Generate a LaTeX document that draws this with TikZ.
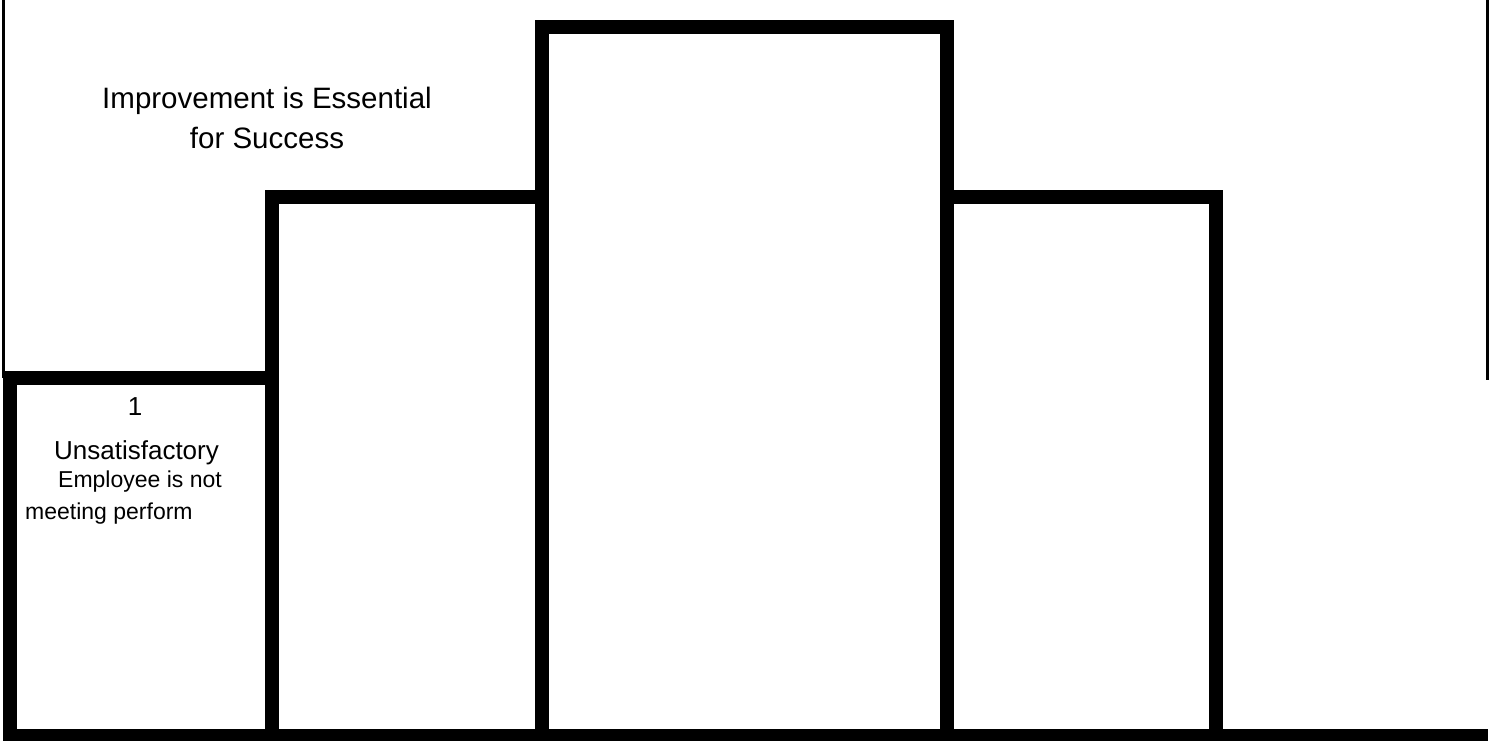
\documentclass[tikz,border=0pt]{standalone}
\usepackage{fontspec}
\setmainfont{Liberation Sans}
\begin{document}
\begin{tikzpicture}[x=1pt,y=-1pt,
  bar/.style={line width=14pt, line join=miter, line cap=butt},
  thin/.style={line width=3pt},
  title/.style={inner sep=0pt, anchor=base, font=\fontsize{29.5}{33}\selectfont},
  big/.style={inner sep=0pt, anchor=base, font=\fontsize{26}{30}\selectfont},
  small/.style={inner sep=0pt, anchor=base, font=\fontsize{23}{27}\selectfont}]
\useasboundingbox (0,0) rectangle (1498,740);
% coordinates
\coordinate (b1tl) at (10,378);
\coordinate (b1tr) at (271.5,378);
\coordinate (b2tl) at (271.5,197);
\coordinate (b2tr) at (542,197);
\coordinate (b3tl) at (542,27);
\coordinate (b3tr) at (947,27);
\coordinate (b4tl) at (947,197);
\coordinate (b4tr) at (1216,197);
\coordinate (b1bl) at (10,736);
\coordinate (b2bl) at (271.5,736);
\coordinate (b3bl) at (542,736);
\coordinate (b4bl) at (947,736);
\coordinate (b4br) at (1216,736);
\coordinate (baseL) at (3,736);
\coordinate (baseR) at (1488,736);
\coordinate (lt) at (3,0);
\coordinate (lb) at (3,378);
\coordinate (rt) at (1487.5,0);
\coordinate (rb) at (1487.5,380);
% thin side lines
\draw[thin] (lt) -- (lb);
\draw[thin] (rt) -- (rb);
% boxes
\draw[bar] (b1bl) -- (b1tl) -- (b1tr) -- (b2bl);
\draw[bar] (b1tr) -- (b2tl) -- (b2tr) -- (b3bl);
\draw[bar] (b2tr) -- (b3tl) -- (b3tr) -- (b4bl);
\draw[bar] (b3tr) -- (b4tl) -- (b4tr) -- (b4br);
\draw[bar] (baseL) -- (baseR);
% texts
\node[title] (t1) at (267,108) {Improvement is Essential};
\node[title] (t2) at (267,148) {for Success};
\node[big] (n1) at (135,415) {1};
\node[big] (n2) at (136.5,459) {Unsatisfactory};
\node[small] (n3) at (140,487) {Employee is not};
\node[small, anchor=base west] (n4) at (25,519) {meeting perform};
\end{tikzpicture}
\end{document}
